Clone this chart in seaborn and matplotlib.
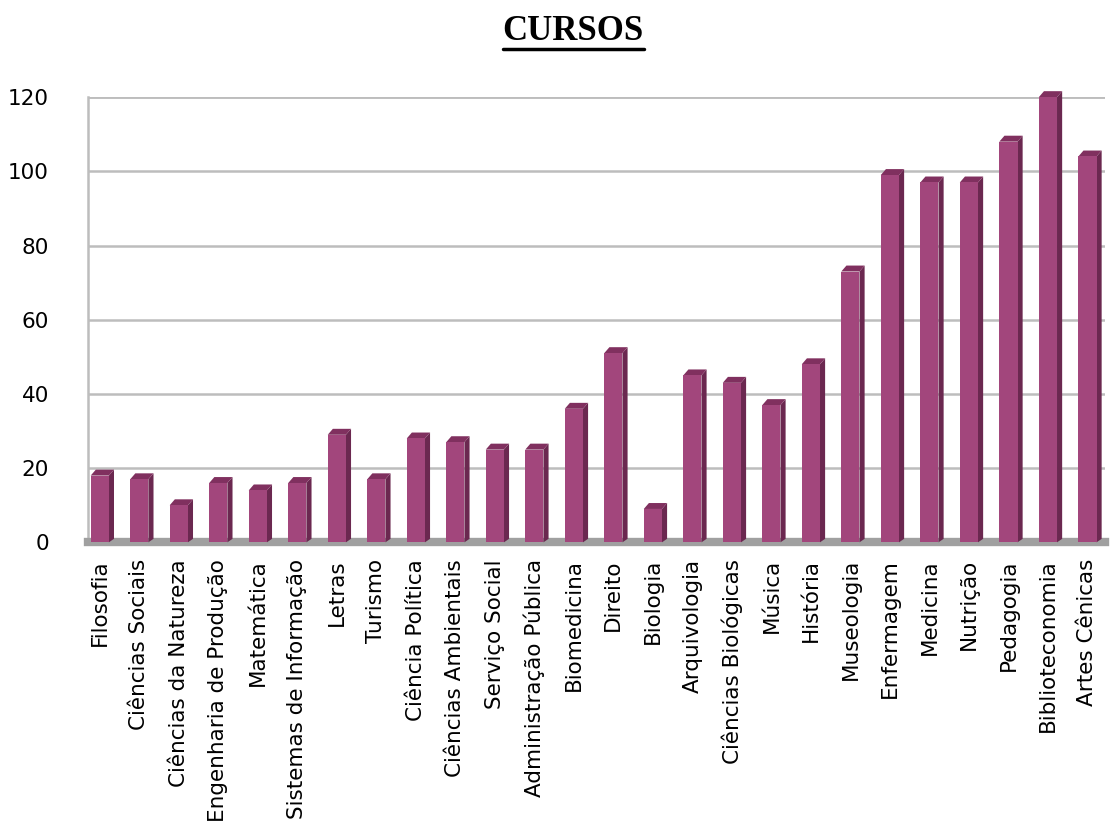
import seaborn as sns
import matplotlib.pyplot as plt
import matplotlib.patches as mpatches
from matplotlib.lines import Line2D
import pandas as pd

cursos = ['Filosofia', 'Ciências Sociais', 'Ciências da Natureza', 'Engenharia de Produção',
          'Matemática', 'Sistemas de Informação', 'Letras', 'Turismo', 'Ciência Política',
          'Ciências Ambientais', 'Serviço Social', 'Administração Pública', 'Biomedicina',
          'Direito', 'Biologia', 'Arquivologia', 'Ciências Biológicas', 'Música', 'História',
          'Museologia', 'Enfermagem', 'Medicina', 'Nutrição', 'Pedagogia', 'Biblioteconomia',
          'Artes Cênicas']
valores = [18, 17, 10, 16, 14, 16, 29, 17, 28, 27, 25, 25, 36, 51, 9, 45, 43, 37, 48,
           73, 99, 97, 97, 108, 120, 104]
yticks = [0, 20, 40, 60, 80, 100, 120]

df = pd.DataFrame({'Curso': cursos, 'Total': valores})

sns.set_style("white")
plt.rcParams['font.family'] = ['DejaVu Sans']
plt.rcParams['text.color'] = 'black'
plt.rcParams['xtick.color'] = 'black'
plt.rcParams['ytick.color'] = 'black'

fig = plt.figure(figsize=(11.13, 8.23), dpi=100)
ax = fig.add_axes([0.079, 0.341, 0.914, 0.541])

sns.barplot(data=df, x='Curso', y='Total', color='#A2467C', width=0.46,
            saturation=1, linewidth=0, edgecolor='none', ax=ax, zorder=3)

# fake 3D side / top faces from the bar patches
side_w = 0.13
top_h = 1.6
for p in list(ax.patches):
    p.set_clip_on(False)
    x0, w, h = p.get_x(), p.get_width(), p.get_height()
    side = mpatches.Polygon([(x0 + w, 0), (x0 + w + side_w, top_h * 0.6),
                             (x0 + w + side_w, h + top_h), (x0 + w, h)],
                            closed=True, facecolor='#6B2850', edgecolor='none',
                            zorder=2.9, clip_on=False)
    top = mpatches.Polygon([(x0, h), (x0 + side_w, h + top_h), (x0 + w + side_w, h + top_h),
                            (x0 + w, h)], closed=True, facecolor='#80305F',
                           edgecolor='none', zorder=2.9, clip_on=False)
    ax.add_patch(side)
    ax.add_patch(top)

ax.set_ylim(0, 120)
ax.set_xlim(-0.3, len(cursos) - 0.55)
ax.set_yticks(yticks)
ax.yaxis.grid(True, color='#BDBDBD', linewidth=1.8, zorder=0)
ax.set_axisbelow(True)
ax.axhline(120, color='#BDBDBD', linewidth=1.8, zorder=0)

for s in ['top', 'right']:
    ax.spines[s].set_visible(False)
ax.spines['left'].set_color('#BDBDBD')
ax.spines['left'].set_linewidth(1.8)
ax.spines['bottom'].set_color('#A0A0A0')
ax.spines['bottom'].set_linewidth(6)

ax.set_xlabel('')
ax.set_ylabel('')
ax.tick_params(axis='y', labelsize=15.5, length=0, pad=28)
ax.tick_params(axis='x', labelsize=15.5, length=0, pad=12)
plt.setp(ax.get_xticklabels(), rotation=90, va='top', ha='center')

title = fig.text(0.515, 0.962, 'CURSOS', ha='center', va='center', fontsize=25,
                 fontweight='bold', color='black', family=['Liberation Serif', 'DejaVu Serif'])
fig.canvas.draw()
bb = title.get_window_extent().transformed(fig.transFigure.inverted())
fig.add_artist(Line2D([bb.x0, bb.x1], [bb.y0 - 0.002, bb.y0 - 0.002],
                      color='black', linewidth=2.5, transform=fig.transFigure))

fig.savefig('out.png', dpi=100, facecolor='white')
